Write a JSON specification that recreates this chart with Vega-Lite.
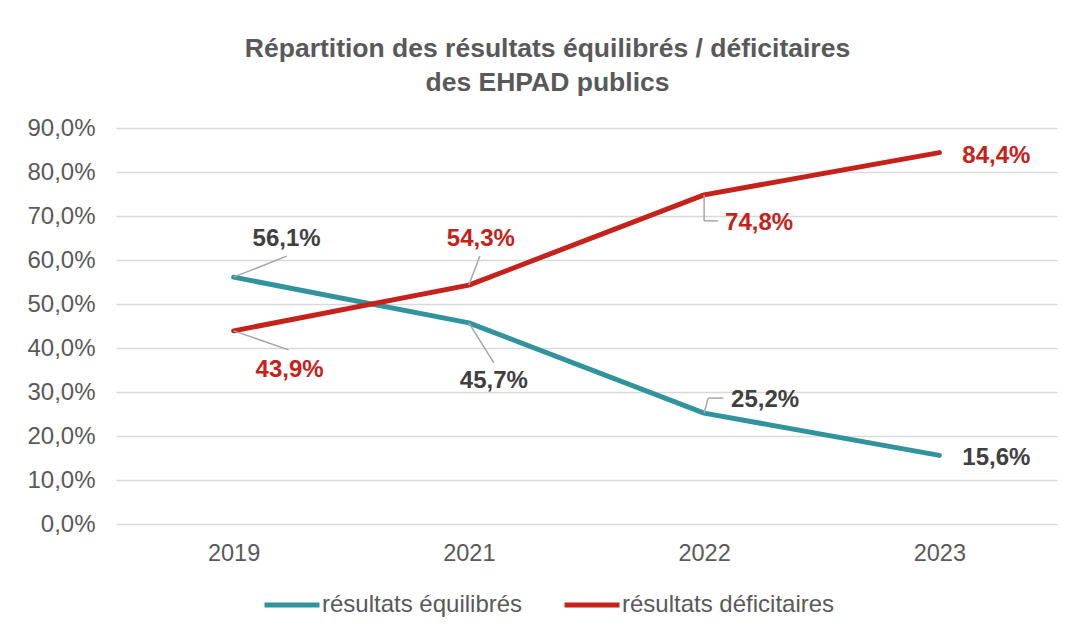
{
  "$schema": "https://vega.github.io/schema/vega-lite/v6.json",
  "width": 941,
  "height": 396,
  "autosize": "none",
  "padding": {"left": 116, "top": 128, "right": 12, "bottom": 109},
  "background": "white",
  "title": {
    "text": ["Répartition des résultats équilibrés / déficitaires", "des EHPAD publics"],
    "font": "Liberation Sans",
    "fontSize": 26.5,
    "fontWeight": "bold",
    "color": "#595959",
    "lineHeight": 34,
    "anchor": "middle",
    "dx": -39,
    "offset": 20
  },
  "data": {
    "values": [
      {"series": "résultats équilibrés", "year": "2019", "value": 0.561},
      {"series": "résultats équilibrés", "year": "2021", "value": 0.457},
      {"series": "résultats équilibrés", "year": "2022", "value": 0.252},
      {"series": "résultats équilibrés", "year": "2023", "value": 0.156},
      {"series": "résultats déficitaires", "year": "2019", "value": 0.439},
      {"series": "résultats déficitaires", "year": "2021", "value": 0.543},
      {"series": "résultats déficitaires", "year": "2022", "value": 0.748},
      {"series": "résultats déficitaires", "year": "2023", "value": 0.844}
    ]
  },
  "encoding": {
    "x": {
      "field": "year",
      "type": "ordinal",
      "scale": {"type": "point", "padding": 0.5},
      "axis": {"title": null, "labelAngle": 0, "ticks": false, "domain": false, "grid": false, "labelFontSize": 23.5, "labelFont": "Liberation Sans", "labelColor": "#595959", "labelPadding": 17}
    },
    "y": {
      "field": "value",
      "type": "quantitative",
      "scale": {"domain": [0, 0.9], "nice": false},
      "axis": {"title": null, "format": ".1%", "values": [0, 0.1, 0.2, 0.3, 0.4, 0.5, 0.6, 0.7, 0.8, 0.9], "ticks": false, "domain": false, "grid": true, "gridColor": "#D9D9D9", "gridWidth": 1.5, "labelFontSize": 24, "labelFont": "Liberation Sans", "labelColor": "#595959", "labelPadding": 21}
    }
  },
  "layer": [
    {
      "mark": {"type": "line", "strokeWidth": 5, "strokeCap": "round", "strokeJoin": "round"},
      "encoding": {
        "color": {
          "field": "series",
          "type": "nominal",
          "sort": ["résultats équilibrés", "résultats déficitaires"],
          "scale": {"domain": ["résultats équilibrés", "résultats déficitaires"], "range": ["#31939B", "#C4221A"]},
          "legend": {
            "title": null,
            "orient": "none",
            "legendX": 146,
            "legendY": 447,
            "direction": "horizontal",
            "symbolType": "stroke",
            "symbolSize": 3025,
            "symbolStrokeWidth": 5,
            "labelFontSize": 24,
            "labelFont": "Liberation Sans",
            "labelColor": "#595959",
            "labelOffset": 0,
            "labelLimit": 0,
            "columnPadding": 31
          }
        }
      }
    },
    {
      "transform": [{"filter": "datum.series === 'résultats équilibrés' && datum.year === '2019'"}],
      "mark": {"type": "rule", "color": "#A6A6A6", "strokeWidth": 1.5, "x2Offset": 53, "y2Offset": -21},
      "encoding": {"x2": {"field": "year"}, "y2": {"field": "value"}}
    },
    {
      "transform": [{"filter": "datum.series === 'résultats déficitaires' && datum.year === '2019'"}],
      "mark": {"type": "rule", "color": "#A6A6A6", "strokeWidth": 1.5, "x2Offset": 55, "y2Offset": 19},
      "encoding": {"x2": {"field": "year"}, "y2": {"field": "value"}}
    },
    {
      "transform": [{"filter": "datum.series === 'résultats déficitaires' && datum.year === '2021'"}],
      "mark": {"type": "rule", "color": "#A6A6A6", "strokeWidth": 1.5, "x2Offset": 11, "y2Offset": -29},
      "encoding": {"x2": {"field": "year"}, "y2": {"field": "value"}}
    },
    {
      "transform": [{"filter": "datum.series === 'résultats équilibrés' && datum.year === '2021'"}],
      "mark": {"type": "rule", "color": "#A6A6A6", "strokeWidth": 1.5, "x2Offset": 25, "y2Offset": 40},
      "encoding": {"x2": {"field": "year"}, "y2": {"field": "value"}}
    },
    {
      "transform": [{"filter": "datum.series === 'résultats déficitaires' && datum.year === '2022'"}],
      "mark": {"type": "rule", "color": "#A6A6A6", "strokeWidth": 1.5, "x2Offset": 0, "y2Offset": 26},
      "encoding": {"x2": {"field": "year"}, "y2": {"field": "value"}}
    },
    {
      "transform": [{"filter": "datum.series === 'résultats déficitaires' && datum.year === '2022'"}],
      "mark": {"type": "rule", "color": "#A6A6A6", "strokeWidth": 1.5, "yOffset": 26, "x2Offset": 14, "y2Offset": 26},
      "encoding": {"x2": {"field": "year"}, "y2": {"field": "value"}}
    },
    {
      "transform": [{"filter": "datum.series === 'résultats équilibrés' && datum.year === '2022'"}],
      "mark": {"type": "rule", "color": "#A6A6A6", "strokeWidth": 1.5, "x2Offset": 4, "y2Offset": -15},
      "encoding": {"x2": {"field": "year"}, "y2": {"field": "value"}}
    },
    {
      "transform": [{"filter": "datum.series === 'résultats équilibrés' && datum.year === '2022'"}],
      "mark": {"type": "rule", "color": "#A6A6A6", "strokeWidth": 1.5, "xOffset": 4, "yOffset": -15, "x2Offset": 19, "y2Offset": -15},
      "encoding": {"x2": {"field": "year"}, "y2": {"field": "value"}}
    },
    {
      "transform": [{"filter": "datum.series === 'résultats équilibrés' && datum.year === '2019'"}],
      "mark": {"type": "text", "font": "Liberation Sans", "fontSize": 24, "fontWeight": "bold", "color": "#404040", "align": "center", "baseline": "middle", "dx": 53, "dy": -38},
      "encoding": {"text": {"field": "value", "type": "quantitative", "format": ".1%"}}
    },
    {
      "transform": [{"filter": "datum.series === 'résultats déficitaires' && datum.year === '2019'"}],
      "mark": {"type": "text", "font": "Liberation Sans", "fontSize": 24, "fontWeight": "bold", "color": "#C4221A", "align": "center", "baseline": "middle", "dx": 56, "dy": 39},
      "encoding": {"text": {"field": "value", "type": "quantitative", "format": ".1%"}}
    },
    {
      "transform": [{"filter": "datum.series === 'résultats déficitaires' && datum.year === '2021'"}],
      "mark": {"type": "text", "font": "Liberation Sans", "fontSize": 24, "fontWeight": "bold", "color": "#C4221A", "align": "center", "baseline": "middle", "dx": 12, "dy": -46},
      "encoding": {"text": {"field": "value", "type": "quantitative", "format": ".1%"}}
    },
    {
      "transform": [{"filter": "datum.series === 'résultats équilibrés' && datum.year === '2021'"}],
      "mark": {"type": "text", "font": "Liberation Sans", "fontSize": 24, "fontWeight": "bold", "color": "#404040", "align": "center", "baseline": "middle", "dx": 25, "dy": 58},
      "encoding": {"text": {"field": "value", "type": "quantitative", "format": ".1%"}}
    },
    {
      "transform": [{"filter": "datum.series === 'résultats déficitaires' && datum.year === '2022'"}],
      "mark": {"type": "text", "font": "Liberation Sans", "fontSize": 24, "fontWeight": "bold", "color": "#C4221A", "align": "center", "baseline": "middle", "dx": 55, "dy": 28},
      "encoding": {"text": {"field": "value", "type": "quantitative", "format": ".1%"}}
    },
    {
      "transform": [{"filter": "datum.series === 'résultats équilibrés' && datum.year === '2022'"}],
      "mark": {"type": "text", "font": "Liberation Sans", "fontSize": 24, "fontWeight": "bold", "color": "#404040", "align": "center", "baseline": "middle", "dx": 61, "dy": -13},
      "encoding": {"text": {"field": "value", "type": "quantitative", "format": ".1%"}}
    },
    {
      "transform": [{"filter": "datum.series === 'résultats déficitaires' && datum.year === '2023'"}],
      "mark": {"type": "text", "font": "Liberation Sans", "fontSize": 24, "fontWeight": "bold", "color": "#C4221A", "align": "center", "baseline": "middle", "dx": 57, "dy": 3},
      "encoding": {"text": {"field": "value", "type": "quantitative", "format": ".1%"}}
    },
    {
      "transform": [{"filter": "datum.series === 'résultats équilibrés' && datum.year === '2023'"}],
      "mark": {"type": "text", "font": "Liberation Sans", "fontSize": 24, "fontWeight": "bold", "color": "#404040", "align": "center", "baseline": "middle", "dx": 57, "dy": 3},
      "encoding": {"text": {"field": "value", "type": "quantitative", "format": ".1%"}}
    }
  ],
  "config": {
    "locale": {"number": {"decimal": ",", "thousands": " ", "grouping": [3], "currency": ["", " €"]}},
    "view": {"stroke": null}
  }
}
